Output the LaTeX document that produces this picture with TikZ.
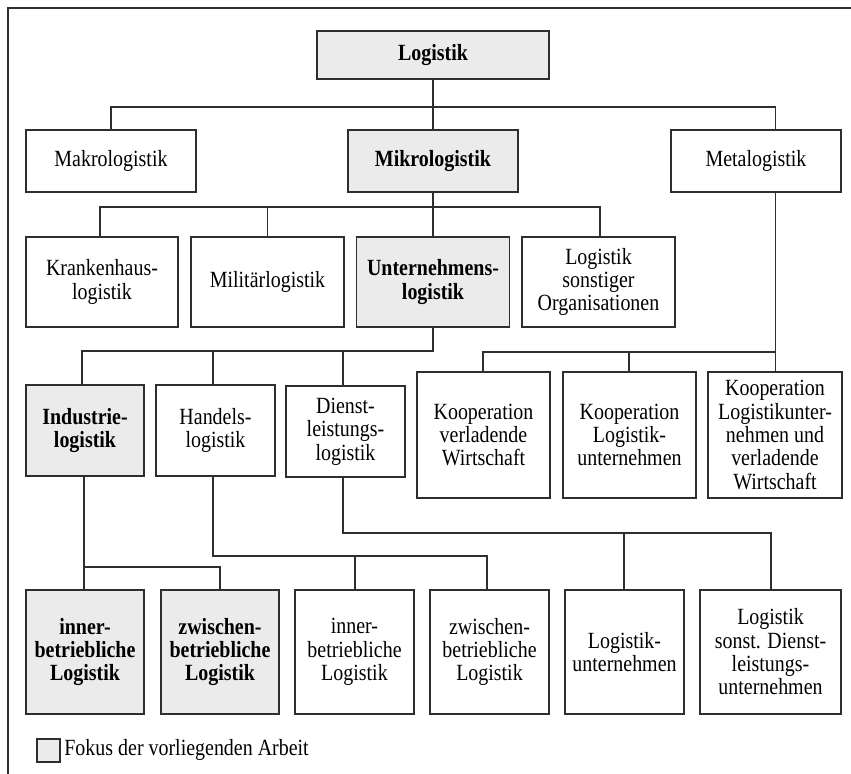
\documentclass[tikz,border=0pt]{standalone}
\usepackage{fontspec}
\setmainfont{Liberation Serif}[FakeStretch=0.86]
\newcommand\fsz{\fontsize{11.6}{11.67}\selectfont}
\definecolor{linec}{HTML}{2E2E2E}
\definecolor{focusc}{HTML}{EAEBEA}
\begin{document}
\begin{tikzpicture}[x=0.5pt,y=-0.5pt,
  base/.style={draw=linec, line width=0.9pt, inner sep=0pt, align=center, font=\fsz},
  plain/.style={base, fill=white},
  focus/.style={base, fill=focusc, font=\fsz\bfseries},
  sz/.style 2 args={minimum width=#1*0.5pt, minimum height=#2*0.5pt},
  conn/.style={draw=linec, line width=0.9pt}]
\useasboundingbox (0,0) rectangle (851,774);
% frame
\draw[draw=linec, line width=0.6pt] (8,774) -- (8,8) -- (851,8);
% level 0 / 1
\node[focus, sz={232}{48}] (log) at (433,55) {Logistik};
\node[plain, sz={170}{62}] (makro) at (111,161) {Makrologistik};
\node[focus, sz={170}{62}] (mikro) at (433,161) {Mikrologistik};
\node[plain, sz={170}{62}] (meta) at (756,161) {Metalogistik};
% level 2
\node[plain, sz={152}{90}] (kranken) at (102,282) {Krankenhaus-\\logistik};
\node[plain, sz={153}{90}] (mil) at (267.5,282) {Militärlogistik};
\node[focus, sz={153}{90}] (unt) at (433,282) {Unternehmens-\\logistik};
\node[plain, sz={153}{90}] (sonst) at (598.5,282) {Logistik\\sonstiger\\Organisationen};
% level 3
\node[focus, sz={118}{91}] (ind) at (85,430.5) {Industrie-\\logistik};
\node[plain, sz={119}{91}] (han) at (215.5,430.5) {Handels-\\logistik};
\node[plain, sz={119}{91}] (die) at (345.5,431.5) {Dienst-\\leistungs-\\logistik};
\node[plain, sz={133}{126}] (k1) at (483.5,435) {Kooperation\\verladende\\Wirtschaft};
\node[plain, sz={133}{126}] (k2) at (629.5,435) {Kooperation\\Logistik-\\unternehmen};
\node[plain, sz={134}{126}] (k3) at (775,435) {Kooperation\\Logistikunter-\\nehmen und\\verladende\\Wirtschaft};
% level 4
\node[focus, sz={118}{124}] (in1) at (85,652) {inner-\\betriebliche\\Logistik};
\node[focus, sz={118}{124}] (zw1) at (220,652) {zwischen-\\betriebliche\\Logistik};
\node[plain, sz={119}{124}] (in2) at (354.5,652) {inner-\\betriebliche\\Logistik};
\node[plain, sz={119}{124}] (zw2) at (489.5,652) {zwischen-\\betriebliche\\Logistik};
\node[plain, sz={119}{124}] (lu) at (624.5,652) {Logistik-\\unternehmen};
\node[plain, sz={141}{124}] (ls) at (770.5,652) {Logistik\\sonst. Dienst-\\leistungs-\\unternehmen};
% legend
\node[focus, sz={23}{23}] (leg) at (48.5,750.5) {};
\node[anchor=west, font=\fsz, inner sep=0pt] (legt) at (64,750) {Fokus der vorliegenden Arbeit};
% junction coordinates
\coordinate (j1) at (433,107);
\coordinate (mj) at (775.5,107);
\coordinate (j2) at (433,207);
\coordinate (j3) at (433,351);
\coordinate (j4) at (775.5,352);
\coordinate (j5) at (84,567);
\coordinate (j6) at (213,556);
\coordinate (j7) at (343,533);
% connectors
\draw[conn] (log.south) -- (mikro.north);
\draw[conn] (makro.north) |- (mj) -- (meta.north -| mj);
\draw[conn] (mikro.south) -- (unt.north);
\draw[conn] (kranken.north -| 100,0) |- (j2) -| (sonst.north -| 600,0);
\draw[conn] (j2 -| mil.north) -- (mil.north);
\draw[conn] (unt.south) -- (j3) -| (ind.north -| 82,0);
\draw[conn] (j3 -| 213,0) -- (han.north -| 213,0);
\draw[conn] (j3 -| 343,0) -- (die.north -| 343,0);
\draw[conn] (meta.south -| mj) -- (k3.north -| mj);
\draw[conn] (j4) -| (k1.north -| 483,0);
\draw[conn] (j4 -| 629,0) -- (k2.north -| 629,0);
\draw[conn] (ind.south -| j5) -- (in1.north -| j5);
\draw[conn] (j5) -| (zw1.north);
\draw[conn] (han.south -| j6) -- (j6) -| (zw2.north -| 487,0);
\draw[conn] (j6 -| 355,0) -- (in2.north -| 355,0);
\draw[conn] (die.south -| j7) -- (j7) -| (ls.north -| 771,0);
\draw[conn] (j7 -| 624,0) -- (lu.north -| 624,0);
\end{tikzpicture}
\end{document}
